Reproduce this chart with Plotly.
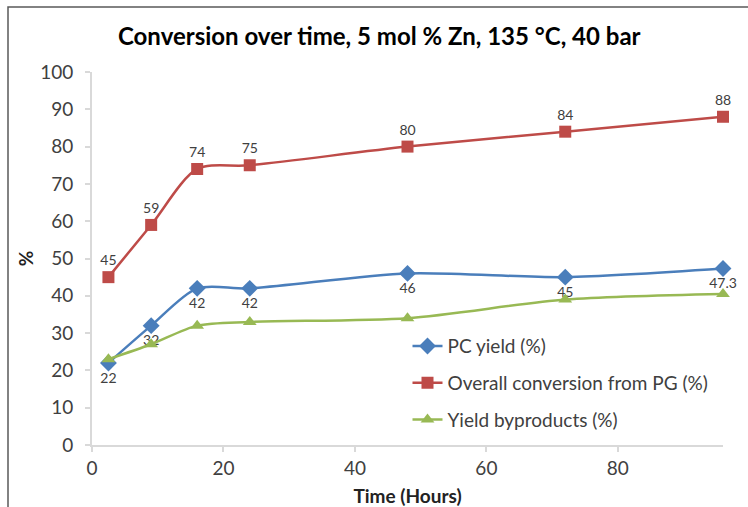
import plotly.graph_objects as go

time_h = [2.5, 9, 16, 24, 48, 72, 96]
pc_yield = [22, 32, 42, 42, 46, 45, 47.3]
overall_conv = [45, 59, 74, 75, 80, 84, 88]
byproducts = [23, 27, 32, 33, 34, 39, 40.5]

pc_labels = ["22", "32", "42", "42", "46", "45", "47.3"]
conv_labels = ["45", "59", "74", "75", "80", "84", "88"]

x_ticks = [0, 20, 40, 60, 80]
y_ticks = [0, 10, 20, 30, 40, 50, 60, 70, 80, 90, 100]

FONT = "Lato"
TXT = "#404040"
AX = "#d9d9d9"

fig = go.Figure()
fig.add_trace(go.Scatter(
    x=time_h, y=pc_yield, name="PC yield (%)", mode="lines+markers+text",
    line=dict(color="#4a7ebb", width=2.5, shape="spline", smoothing=0.8),
    marker=dict(symbol="diamond", size=13, color="#4a7ebb"),
    text=pc_labels, textposition="bottom center",
    textfont=dict(family=FONT, size=14, color=TXT),
    cliponaxis=False, legendgroup="a",
))
fig.add_trace(go.Scatter(
    x=time_h, y=overall_conv, name="Overall conversion from PG (%)", mode="lines+markers+text",
    line=dict(color="#be4b48", width=2.5, shape="spline", smoothing=0.8),
    marker=dict(symbol="square", size=12, color="#be4b48"),
    text=conv_labels, textposition="top center",
    textfont=dict(family=FONT, size=14, color=TXT),
    cliponaxis=False, legendgroup="b",
))
fig.add_trace(go.Scatter(
    x=time_h, y=byproducts, name="Yield byproducts (%)", mode="lines+markers",
    line=dict(color="#98b954", width=2.5, shape="spline", smoothing=0.8),
    marker=dict(symbol="triangle-up", size=12, color="#98b954"),
    cliponaxis=False, legendgroup="c",
))

fig.update_layout(
    width=748, height=507,
    margin=dict(l=92, r=25, t=72, b=62),
    paper_bgcolor="white", plot_bgcolor="white",
    font=dict(family=FONT, color=TXT),
    title=dict(text="<b>Conversion over time, 5 mol % Zn, 135 °C, 40 bar</b>",
               x=0.507, xanchor="center", y=0.927, yanchor="middle",
               font=dict(family=FONT, size=24, color="black")),
    legend=dict(x=0.5, y=0.316, xanchor="left", yanchor="top",
                font=dict(family=FONT, size=19, color=TXT),
                traceorder="grouped", tracegroupgap=9,
                bgcolor="rgba(0,0,0,0)", itemwidth=30),
    xaxis=dict(range=[0, 96], tickvals=x_ticks, showgrid=False, zeroline=False,
               showline=True, linecolor=AX, linewidth=2, ticks="outside",
               ticklen=5, tickcolor=AX, tickwidth=1.5, automargin=False,
               tickfont=dict(family=FONT, size=19, color=TXT),
               title=dict(text="<b>Time (Hours)</b>", standoff=13,
                          font=dict(family=FONT, size=19, color="#222"))),
    yaxis=dict(range=[0, 100], tickvals=y_ticks, showgrid=False, zeroline=False,
               showline=True, linecolor=AX, linewidth=2, ticks="outside",
               ticklen=5, tickcolor=AX, tickwidth=1.5, ticklabelstandoff=8,
               automargin=False,
               tickfont=dict(family=FONT, size=19, color=TXT),
               title=dict(text="<b>%</b>", standoff=1,
                          font=dict(family=FONT, size=19, color="#222"))),
    shapes=[dict(type="rect", xref="paper", yref="paper",
                 x0=-84/631, x1=(760-92)/631, y0=-0.2, y1=1 + 65/373,
                 line=dict(color="#595959", width=1.5), fillcolor="rgba(0,0,0,0)")],
)

fig.write_html("out.html")
